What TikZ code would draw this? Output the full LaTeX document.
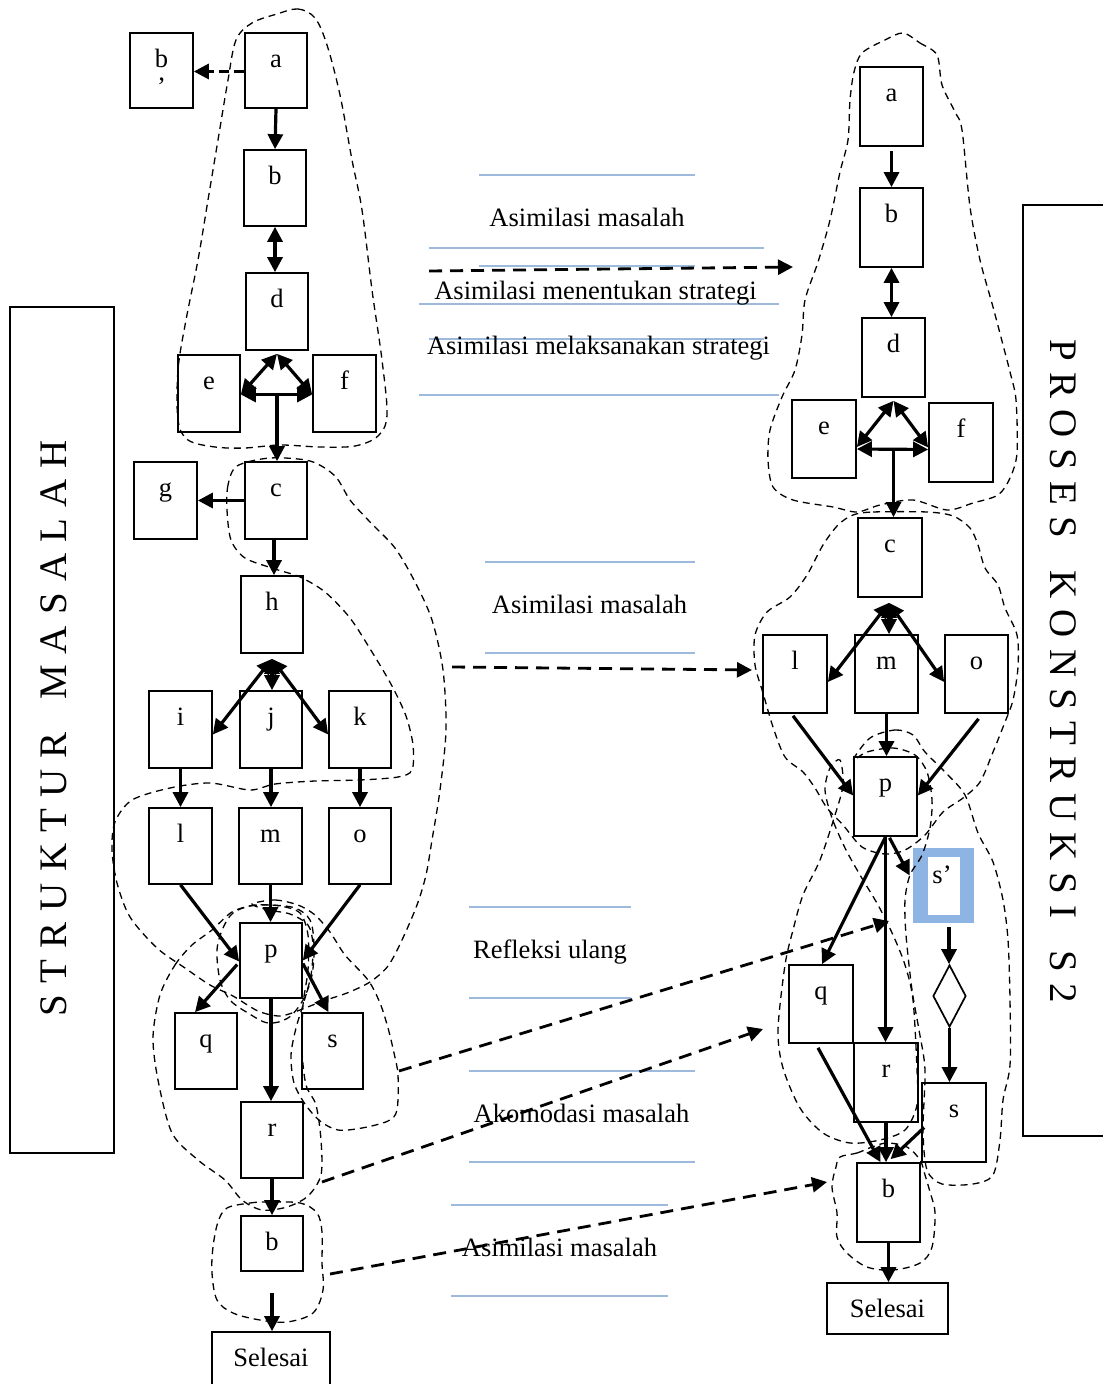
\documentclass[tikz,border=0pt]{standalone}
\usepackage{fontspec}
\setmainfont{Liberation Serif}
\usetikzlibrary{arrows.meta,calc,shapes.geometric}
\definecolor{guideblue}{RGB}{157,185,220}
\definecolor{spblue}{RGB}{141,180,226}
% box: name, x1, y1, x2, y2, letter (coordinates in px-like units)
\newcommand\bx[6]{\node[box,minimum width={(#4-#2)*0.5pt},minimum height={(#5-#3)*0.5pt},label={[boxtext]north:#6}] (#1) at ({(#2+#4)/2},{(#3+#5)/2}) {};}
\newcommand\ls{\kern5.6pt}
\begin{document}
\begin{tikzpicture}[x=0.5pt,y=-0.5pt,
  font=\fontsize{13.25}{15}\selectfont,
  box/.style={draw,line width=0.85pt,inner sep=0pt},
  boxtext/.style={anchor=base,yshift=-17.5pt,inner sep=0pt},
  arr/.style={line width=1.6pt,-{Triangle[length=7.5pt,width=7.5pt]}},
  darr/.style={line width=1.6pt,{Triangle[length=7.5pt,width=7.5pt]}-{Triangle[length=7.5pt,width=7.5pt]}},
  blob/.style={draw,line width=0.65pt,dash pattern=on 3.5pt off 2.5pt},
  link/.style={line width=1.4pt,dash pattern=on 6.5pt off 4pt,-{Triangle[length=7.5pt,width=7.5pt]}},
  guide/.style={line width=1pt,draw=guideblue},
  title/.style={font=\fontsize{19.5}{20}\selectfont,inner sep=0pt}]

\fill[white] (0,0) rectangle (1102,1384);
\useasboundingbox (0,0) rectangle (1102,1384);

% ---------- side panels ----------
\node[box,minimum width=52pt,minimum height=423pt] (Lside) at (62,730) {};
\node[title,rotate=90] (Ltitle) at (54,728) {S\ls T\ls R\ls U\ls K\ls T\ls U\ls R\ls{} \ls M\ls A\ls S\ls A\ls L\ls A\ls H};
\node[box,minimum width=43.5pt,minimum height=465.5pt] (Rside) at (1066.5,670.5) {};
\node[title,rotate=-90] (Rtitle) at (1063,671) {P\ls R\ls O\ls S\ls E\ls S\ls{} \ls K\ls O\ls N\ls S\ls T\ls R\ls U\ls K\ls S\ls I\ls{} \ls S\ls 2};

% ---------- guide lines and captions ----------
\draw[guide] (479,175) -- (695,175);
\draw[guide] (429,248) -- (764,248);
\draw[guide] (479,266) -- (695,266);
\draw[guide] (419,304) -- (779,304);
\draw[guide] (429,339) -- (764,339);
\draw[guide] (419,395) -- (779,395);
\draw[guide] (485,562) -- (695,562);
\draw[guide] (485,653) -- (695,653);
\draw[guide] (469,907) -- (631,907);
\draw[guide] (469,998) -- (631,998);
\draw[guide] (469,1071) -- (695,1071);
\draw[guide] (469,1162) -- (695,1162);
\draw[guide] (451,1205) -- (668,1205);
\draw[guide] (451,1296) -- (668,1296);

\node[anchor=base] (t1) at (587,227) {Asimilasi masalah};
\node[anchor=base] (t2) at (595.5,300) {Asimilasi menentukan strategi};
\node[anchor=base] (t3) at (598.5,355) {Asimilasi melaksanakan strategi};
\node[anchor=base] (t4) at (589.5,613) {Asimilasi masalah};
\node[anchor=base] (t5) at (550,958) {Refleksi ulang};
\node[anchor=base] (t6) at (581.5,1122) {Akomodasi masalah};
\node[anchor=base] (t7) at (559.5,1256) {Asimilasi masalah};

% ---------- left structure ----------
\bx{Lbp}{130}{33}{193}{108}{b}
\node[anchor=base,inner sep=0pt] (Lbpq) at (161.5,96) {’};
\bx{La}{245}{33}{307}{108}{a}
\bx{Lb}{244}{150}{306}{226}{b}
\bx{Ld}{246}{273}{308}{350}{d}
\bx{Le}{178}{355}{240}{432}{e}
\bx{Lf}{313}{355}{376}{432}{f}
\bx{Lg}{134}{462}{197}{539}{g}
\bx{Lc}{245}{462}{307}{539}{c}
\bx{Lh}{241}{576}{303}{653}{h}
\bx{Li}{149}{691}{212}{768}{i}
\bx{Lj}{240}{691}{302}{768}{j}
\bx{Lk}{329}{691}{391}{768}{k}
\bx{Ll}{149}{808}{212}{884}{l}
\bx{Lm}{239}{808}{302}{884}{m}
\bx{Lo}{329}{808}{391}{884}{o}
\bx{Lp}{240}{923}{302}{998}{p}
\bx{Lq}{175}{1013}{237}{1089}{q}
\bx{Ls}{302}{1013}{363}{1089}{s}
\bx{Lr}{241}{1102}{303}{1178}{r}
\bx{Lbb}{241}{1216}{303}{1271}{b}
\bx{Lsel}{212}{1332}{330}{1400}{Selesai}

\draw[line width=1.6pt,dash pattern=on 5pt off 2.5pt,-{Triangle[length=7.5pt,width=7.5pt]}] ($(La.west)+(0,1)$) -- ($(Lbp.east)+(0,1)$);
\draw[arr] (La.south) -- (Lb.north);
\draw[darr] (Lb.south) -- (Lb.south |- Ld.north);
\coordinate (Ltop) at ($(Ld.south)+(0,3)$);
\draw[darr] (Ltop) -- ($(Le.east)+(0,1)$);
\draw[darr] (Ltop) -- ($(Lf.west)+(0,1)$);
\draw[darr] ($(Le.east)+(0,1)$) -- ($(Lf.west)+(0,1)$);
\coordinate (Lmid) at ($(Ltop |- Le.east)+(0,3)$);
\draw[arr] (Lmid) -- (Lmid |- Lc.north);
\draw[arr] (Lc.west) -- (Lg.east);
\draw[arr] ($(Lc.south)+(-2,0)$) -- ($(Lc.south |- Lh.north)+(-2,0)$);
\coordinate (Lhv) at ($(Lh.south)+(0,5)$);
\draw[darr] (Lhv) -- ($(Li.east)+(0,5)$);
\draw[darr] (Lhv) -- (Lhv |- Lj.north);
\draw[darr] (Lhv) -- ($(Lk.west)+(0,5)$);
\draw[arr] (Li.south) -- (Li.south |- Ll.north);
\draw[arr] (Lj.south) -- (Lj.south |- Lm.north);
\draw[arr] (Lk.south) -- (Lk.south |- Lo.north);
\draw[arr] (Ll.south) -- ($(Lp.west)+(0,1)$);
\draw[arr] (Lm.south) -- (Lm.south |- Lp.north);
\draw[arr] (Lo.south) -- (Lp.east);
\draw[arr] ($(Lp.west)+(-2,4)$) -- ($(Lq.north)+(-11,0)$);
\draw[arr] ($(Lp.east)+(0,3)$) -- ($(Ls.north)+(-4,0)$);
\draw[arr] (Lp.south) -- (Lp.south |- Lr.north);
\draw[arr] (Lr.south) -- (Lr.south |- Lbb.north);
\draw[arr] ($(Lbb.south)+(0,21)$) -- ($(Lbb.south |- Lsel.north)$);

% ---------- right construction ----------
\bx{Ra}{860}{67}{923}{146}{a}
\bx{Rb}{860}{188}{923}{267}{b}
\bx{Rd}{862}{318}{925}{397}{d}
\bx{Re}{792}{400}{856}{478}{e}
\bx{Rf}{929}{403}{993}{482}{f}
\bx{Rc}{858}{518}{922}{597}{c}
\bx{Rl}{763}{635}{827}{713}{l}
\bx{Rm}{855}{635}{918}{713}{m}
\bx{Ro}{945}{635}{1008}{713}{o}
\bx{Rp}{854}{757}{917}{836}{p}
\bx{Rq}{789}{965}{853}{1043}{q}
\bx{Rr}{854}{1043}{918}{1122}{r}
\bx{Rs}{922}{1083}{986}{1162}{s}
\bx{Rbb}{857}{1163}{920}{1242}{b}
\bx{Rsel}{827}{1283}{948}{1334}{Selesai}

\node[fill=spblue,inner sep=0pt,minimum width=30.5pt,minimum height=37.5pt] (Rsp) at (943.5,885.5) {};
\fill[white] (928,857) rectangle (960,915);
\node[anchor=base,inner sep=0pt] (Rspt) at (942,883) {s’};
\node[draw,diamond,line width=0.85pt,inner sep=0pt,minimum width=16.5pt,minimum height=31pt] (Rdia) at (949.5,996) {};

\draw[arr] ($(Ra.south)+(0,4)$) -- (Ra.south |- Rb.north);
\draw[darr] (Rb.south) -- (Rb.south |- Rd.north);
\coordinate (Rtop) at ($(Rd.south)+(0,3)$);
\draw[darr] (Rtop) -- ($(Re.east)+(0,8)$);
\draw[darr] (Rtop) -- ($(Rf.west)+(0,5)$);
\draw[darr] ($(Re.east)+(0,10)$) -- ($(Rf.west)+(0,7)$);
\coordinate (Rmid) at ($(Rtop |- Re.east)+(0,12)$);
\draw[arr] (Rmid) -- (Rmid |- Rc.north);
\coordinate (Rcv) at ($(Rc.south)+(-1,5)$);
\draw[darr] (Rcv) -- ($(Rl.east)+(0,8)$);
\draw[darr] (Rcv) -- (Rcv |- Rm.north);
\draw[darr] (Rcv) -- ($(Ro.west)+(0,8)$);
\draw[arr] ($(Rl.south)+(-2,2)$) -- ($(Rp.west)+(0,-1)$);
\draw[arr] (Rm.south) -- (Rm.south |- Rp.north);
\draw[arr] ($(Ro.south)+(2,5)$) -- ($(Rp.east)+(0,-1)$);
\draw[arr] (Rp.south) -- ($(Rq.north)+(1,0)$);
\draw[arr] (Rp.south) -- (Rp.south |- Rr.north);
\draw[arr] ($(Rp.south)+(4,1)$) -- ($(Rsp.west)+(-3,-10)$);
\coordinate (Rspb) at ($(Rsp.south)+(5.5,4)$);
\draw[arr] (Rspb) -- (Rspb |- Rdia.north);
\draw[arr] (Rdia.south) -- (Rdia.south |- Rs.north);
\draw[arr] ($(Rq.south)+(-3,4)$) -- ($(Rbb.north)+(-8,0)$);
\draw[arr] (Rr.south) -- (Rr.south |- Rbb.north);
\draw[arr] ($(Rs.west)+(3,5)$) -- ($(Rbb.north)+(2,-3)$);
\draw[arr] (Rbb.south) -- (Rbb.south |- Rsel.north);

% ---------- dashed groupings, left ----------
\draw[blob] plot[smooth cycle,tension=0.55] coordinates {(277,14) (298,9) (315,18) (327,45) (340,95) (352,160) (362,210) (372,290) (382,360) (387,415) (378,436) (355,446) (320,447) (280,445) (245,448) (215,447) (188,440) (178,420) (178,370) (186,320) (198,260) (208,200) (218,140) (228,80) (236,40) (252,23)};
\draw[blob] plot[smooth cycle,tension=0.5] coordinates {(237,466) (228,485) (227,510) (231,540) (245,558) (275,569) (300,577) (325,592) (350,618) (372,652) (392,686) (406,716) (413,745) (412,770) (398,777) (360,780) (315,781) (275,784) (250,790) (210,783) (170,788) (132,800) (115,822) (112,850) (117,883) (130,917) (157,948) (185,968) (210,985) (233,996) (258,1011) (280,1016) (300,1010) (323,1001) (347,993) (370,982) (388,966) (402,940) (417,905) (426,875) (432,840) (440,790) (446,730) (443,670) (432,620) (415,582) (395,548) (370,522) (350,500) (335,476) (310,461) (270,458)};
\draw[blob] plot[smooth cycle,tension=0.55] coordinates {(233,913) (250,906) (270,905) (295,908) (310,920) (314,945) (312,975) (303,1000) (288,1018) (268,1023) (248,1013) (230,1000) (220,980) (217,950) (223,928)};
\draw[blob] plot[smooth cycle,tension=0.5] coordinates {(252,904) (275,900) (298,905) (315,915) (330,932) (345,955) (368,980) (380,1003) (388,1028) (394,1053) (398,1075) (397,1110) (388,1121) (362,1128) (338,1130) (320,1121) (305,1104) (294,1083) (291,1055) (296,1028) (303,1005) (311,975) (313,945) (308,925) (290,914) (268,910)};
\draw[blob] plot[smooth cycle,tension=0.5] coordinates {(160,995) (175,965) (192,945) (212,930) (232,912) (255,905) (280,906) (300,913) (308,935) (308,970) (303,1005) (302,1050) (306,1085) (316,1105) (321,1140) (321,1175) (308,1196) (287,1207) (262,1210) (242,1200) (225,1180) (198,1160) (172,1133) (158,1080) (153,1037)};
\draw[blob] plot[smooth cycle,tension=0.55] coordinates {(227,1208) (250,1203) (267,1202) (300,1203) (317,1213) (322,1232) (322,1263) (323,1290) (313,1313) (287,1322) (260,1320) (233,1313) (217,1300) (212,1273) (213,1247) (218,1222)};

% ---------- dashed groupings, right ----------
\draw[blob] plot[smooth cycle,tension=0.5] coordinates {(903,33) (920,43) (937,55) (942,85) (955,112) (962,130) (970,207) (980,260) (993,307) (1003,345) (1010,372) (1016,400) (1017,453) (1010,478) (998,495) (973,503) (947,510) (913,500) (880,505) (857,512) (833,507) (793,500) (773,487) (768,460) (770,430) (782,397) (795,370) (802,335) (805,300) (818,262) (830,220) (840,172) (848,140) (850,100) (854,72) (862,53) (885,40)};
\draw[blob] plot[smooth cycle,tension=0.5] coordinates {(853,515) (873,512) (927,512) (953,516) (970,528) (978,545) (985,568) (998,585) (1005,608) (1017,635) (1018,667) (1013,700) (1005,722) (993,752) (980,782) (963,798) (943,812) (925,835) (905,850) (885,854) (862,847) (843,825) (827,808) (815,788) (803,772) (785,757) (773,727) (763,693) (755,665) (755,635) (767,612) (790,597) (807,575) (823,545) (838,525)};
\draw[blob] plot[smooth cycle,tension=0.5] coordinates {(870,738) (895,730) (913,735) (925,752) (945,772) (965,795) (978,833) (993,862) (1003,900) (1008,940) (1010,1000) (1010,1065) (1003,1100) (1000,1140) (993,1175) (973,1184) (942,1184) (927,1170) (923,1130) (925,1070) (919,1030) (912,990) (906,935) (905,900) (910,875) (922,855) (930,828) (932,800) (927,772) (915,755) (893,748) (867,752) (853,760)};
\draw[blob] plot[smooth cycle,tension=0.5] coordinates {(840,760) (843,785) (835,815) (820,860) (803,895) (793,930) (785,965) (778,1030) (783,1068) (800,1108) (823,1133) (850,1143) (880,1140) (905,1130) (917,1105) (917,1070) (913,1000) (905,965) (893,935) (878,905) (860,875) (845,848) (832,818) (825,790) (830,768)};
\draw[blob] plot[smooth cycle,tension=0.55] coordinates {(840,1157) (857,1153) (872,1147) (887,1143) (907,1147) (920,1160) (925,1175) (930,1192) (935,1213) (932,1247) (920,1263) (893,1270) (867,1267) (847,1253) (837,1237) (837,1213) (832,1187) (836,1167)};

% ---------- links between the two sides ----------
\coordinate (k1s) at (429,271); \coordinate (k1e) at (793,267);
\coordinate (k2s) at (452,667); \coordinate (k2e) at (752,670);
\coordinate (k3s) at (399,1071); \coordinate (k3e) at (889,921);
\coordinate (k4s) at (322,1182); \coordinate (k4e) at (763,1029);
\coordinate (k5s) at (330,1274); \coordinate (k5e) at (827,1182);
\draw[link] (k1s) -- (k1e);
\draw[link] (k2s) -- (k2e);
\draw[link] (k3s) -- (k3e);
\draw[link] (k4s) -- (k4e);
\draw[link] (k5s) -- (k5e);
\end{tikzpicture}
\end{document}
